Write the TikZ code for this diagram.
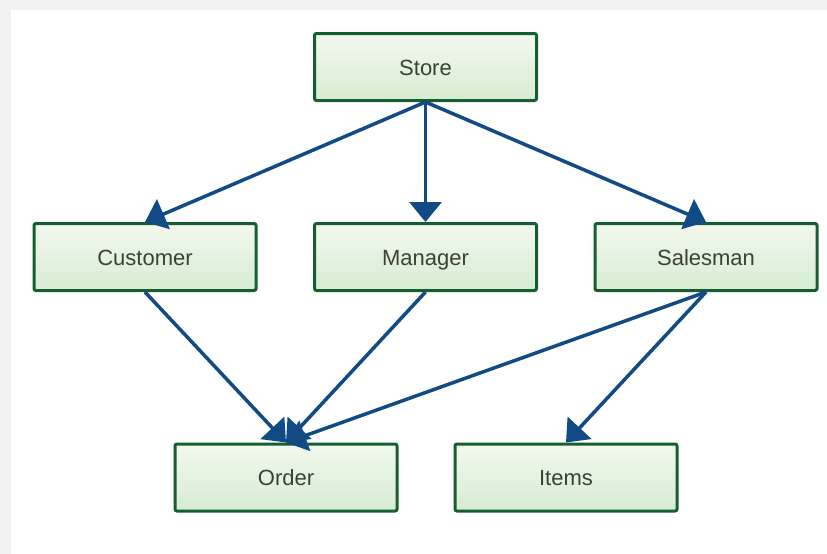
\documentclass[tikz,border=0pt]{standalone}
\usepackage{fontspec}
\setmainfont{Liberation Sans}
\usetikzlibrary{positioning}
\usetikzlibrary{arrows.meta}
\definecolor{boxline}{RGB}{22,94,48}
\definecolor{boxtop}{RGB}{242,248,238}
\definecolor{boxbot}{RGB}{214,236,210}
\definecolor{boxtext}{RGB}{58,66,52}
\definecolor{link}{RGB}{18,74,134}
\definecolor{frame}{RGB}{241,241,241}

\begin{document}
\begin{tikzpicture}[x=1pt,y=-1pt,
  entity/.style={draw=boxline,line width=3pt,rounded corners=2pt,top color=boxtop,bottom color=boxbot,
    minimum width=222pt,minimum height=67pt,text height=16pt,text depth=0pt,
    text=boxtext,font=\fontsize{22}{26}\selectfont},
  link/.style={draw=link,line width=3.5pt,-{Triangle[length=20pt,width=32pt]}}]
 \fill[frame](0,0) rectangle (827,554);
 \fill[white](11,10) rectangle (827,554);
 \useasboundingbox (0,0) rectangle (827,554);
 \node[entity] (store) at (425.5,67) {Store};
 \node[entity] (customer) at (145,257) {Customer};
 \node[entity] (manager) at (425.5,257) {Manager};
 \node[entity] (salesman) at (706,257) {Salesman};
 \node[entity] (order) at (286,477.5) {Order};
 \node[entity] (items) at (566,477.5) {Items};
 \draw[link](store.south)--(customer.north);
 \draw[link](store.south)--(manager.north);
 \draw[link](store.south)--(salesman.north);
 \draw[link](customer.south)--(order.north);
 \draw[link](manager.south)--(order.north);
 \draw[link](salesman.south)--(order.north);
 \draw[link](salesman.south)--(items.north);
\end{tikzpicture}
\end{document}
